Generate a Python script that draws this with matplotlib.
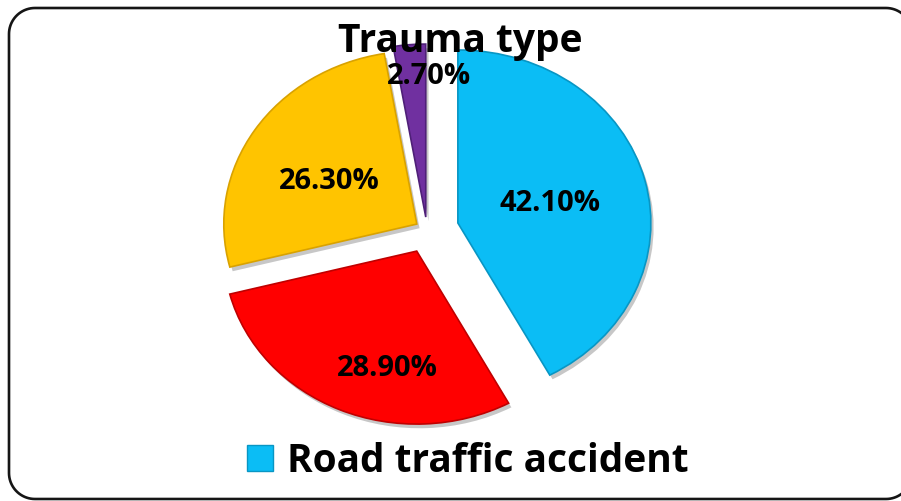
import numpy as np
import matplotlib
matplotlib.use('Agg')
import matplotlib.pyplot as plt
from matplotlib.patches import Rectangle
from matplotlib.lines import Line2D
from matplotlib.transforms import IdentityTransform
import matplotlib.patheffects as pe

# data
categories = ['Road traffic accident', 'Fall', 'Assault', 'Other']
shares = [42.1, 28.9, 26.3, 2.7]
pct_labels = ['42.10%', '28.90%', '26.30%', '2.70%']
title = 'Trauma type'

colors = ['#0BBDF5', '#FF0000', '#FFC400', '#7030A0']
edges = ['#0896C4', '#C00000', '#D9A200', '#4F2078']
explode = [0.165, 0.133, 0.063, 0.075]
lab_dist = [0.49, 0.69, 0.52, 0.82]
lab_nudge = [0, 11, 4, -6]   # degrees

plt.rcParams['font.family'] = ['Open Sans', 'DejaVu Sans']

W, H = 901, 502
fig = plt.figure(figsize=(W / 100, H / 100), dpi=100)


def rounded_box(x0, y0, x1, y1, r, n=20):
    # polyline of a rounded rectangle (pixel coords, y up)
    pts = []
    corners = [(x1 - r, y1 - r, 0), (x0 + r, y1 - r, 90),
               (x0 + r, y0 + r, 180), (x1 - r, y0 + r, 270)]
    for cx, cy, a0 in corners:
        t = np.deg2rad(np.linspace(a0, a0 + 90, n))
        pts.append(np.column_stack([cx + r * np.cos(t), cy + r * np.sin(t)]))
    pts = np.vstack(pts + [pts[0][:1]])
    return pts[:, 0], pts[:, 1]


# rounded frame, right side runs off the image
bx, by = rounded_box(9, 2, 912, 493, 26)
fig.add_artist(Line2D(bx, by, transform=IdentityTransform(),
                      color='#151515', linewidth=1.9))

ax = fig.add_axes([0, 0, 1, 1])
wedges, _ = ax.pie(shares, colors=colors, explode=explode, startangle=90,
                   counterclock=False, radius=1, center=(0, 0))
shadow = pe.SimplePatchShadow(offset=(2, -3), shadow_rgbFace='k', alpha=0.22)
for w, ec in zip(wedges, edges):
    w.set_edgecolor(ec)
    w.set_linewidth(1.2)
    w.set_path_effects([shadow, pe.Normal()])

for w, lab, d, nud in zip(wedges, pct_labels, lab_dist, lab_nudge):
    mid = np.deg2rad((w.theta1 + w.theta2) / 2 + nud)
    cx, cy = w.center
    ax.text(cx + d * np.cos(mid), cy + d * np.sin(mid), lab,
            ha='center', va='center', fontsize=21, fontweight='bold', color='black')

# elliptical look like the original (wider than tall)
ax.set_aspect('auto')
ax.set_xlim(-2.2124, 2.4560)
ax.set_ylim(-1.5665, 1.3353)
ax.axis('off')

fig.text(460.5 / W, 1 - 52 / H, title, ha='center', va='baseline',
         fontsize=28, fontweight='bold', color='black')

handle = Rectangle((0, 0), 1, 1, facecolor=colors[0], edgecolor=edges[0], linewidth=1.0)
fig.legend([handle], [categories[0]], loc='center',
           bbox_to_anchor=(468 / W, 1 - 462 / H), frameon=False,
           prop={'size': 28, 'weight': 'bold'},
           handlelength=0.67, handleheight=0.67, handletextpad=0.35)

fig.savefig('out.png', dpi=100)
